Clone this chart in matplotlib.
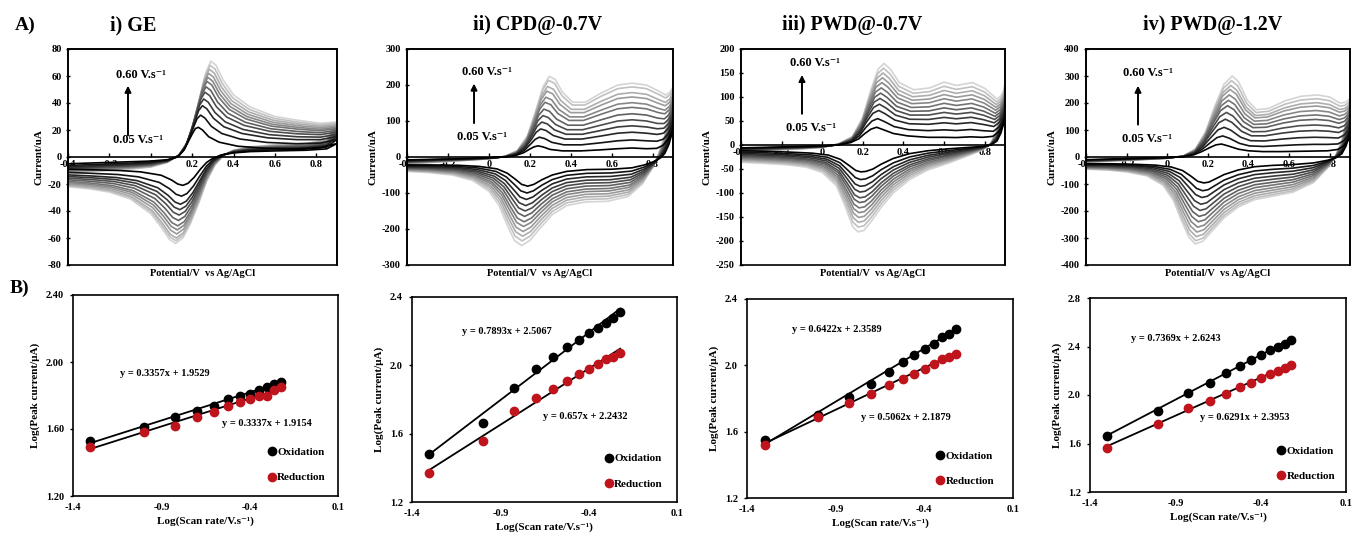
import numpy as np
import matplotlib
matplotlib.use('Agg')
import matplotlib.pyplot as plt
from matplotlib.patches import Rectangle
from matplotlib.ticker import FixedLocator, FuncFormatter

# ---------------- data ----------------
SCAN_RATES = [0.05, 0.10, 0.15, 0.20, 0.25, 0.30, 0.35, 0.40, 0.45, 0.50, 0.55, 0.60]

# CV sweeps (potential V, current uA): slowest (0.05 V/s) and fastest (0.60 V/s) scans
GE_FWD_SLOW = [(-0.40, -5), (-0.30, -4.5), (-0.20, -4), (-0.10, -3.5), (0.00, -3), (0.08, -2), (0.13, 0), (0.16, 5),
               (0.18, 11), (0.20, 17), (0.215, 21), (0.23, 22), (0.25, 20), (0.28, 15), (0.33, 11), (0.42, 8),
               (0.55, 6.5), (0.70, 6), (0.82, 7), (0.90, 10)]
GE_FWD_FAST = [(-0.40, -12), (-0.30, -11), (-0.20, -10), (-0.10, -9), (0.00, -7.5), (0.08, -4), (0.14, 2), (0.18, 12),
               (0.21, 27), (0.24, 46), (0.265, 62), (0.29, 71), (0.315, 68), (0.35, 57), (0.40, 46), (0.48, 37),
               (0.60, 30), (0.72, 27), (0.82, 25), (0.90, 26)]
GE_REV_SLOW = [(0.90, 10), (0.85, 6), (0.75, 5), (0.60, 4.5), (0.48, 4), (0.40, 3), (0.34, 1.5), (0.30, -1),
               (0.27, -4), (0.24, -9), (0.21, -15), (0.18, -19.5), (0.155, -21), (0.13, -20), (0.10, -17),
               (0.05, -13.5), (-0.05, -11), (-0.15, -10), (-0.28, -9.5), (-0.40, -9)]
GE_REV_FAST = [(0.90, 26), (0.85, 13), (0.75, 10), (0.60, 9), (0.48, 7.5), (0.40, 5), (0.35, 1), (0.31, -6),
               (0.27, -18), (0.23, -35), (0.19, -50), (0.155, -60), (0.12, -64), (0.09, -61), (0.05, -52),
               (0.00, -42), (-0.10, -31), (-0.20, -26), (-0.30, -23.5), (-0.40, -22)]
GE_OX_PEAKS = [22, 31, 38, 43, 48, 52, 56, 59, 62, 65, 68, 71]
GE_RED_PEAKS = [-21, -29, -35, -39, -43, -47, -51, -54, -57, -60, -62, -64]

CPD_FWD_SLOW = [(-0.40, -8), (-0.25, -6), (-0.10, -4), (0.00, -2), (0.08, 0), (0.13, 4), (0.17, 12), (0.20, 22),
                (0.22, 28), (0.24, 31), (0.265, 28), (0.30, 21), (0.36, 17), (0.45, 17), (0.55, 20), (0.63, 23),
                (0.70, 25), (0.77, 23), (0.82, 24), (0.85, 32), (0.875, 48), (0.90, 75)]
CPD_FWD_FAST = [(-0.40, -20), (-0.25, -14), (-0.10, -9), (0.00, -5), (0.08, 2), (0.14, 18), (0.19, 60), (0.23, 130),
                (0.265, 195), (0.295, 224), (0.325, 215), (0.36, 180), (0.41, 152), (0.47, 152), (0.55, 178),
                (0.63, 200), (0.70, 205), (0.77, 200), (0.83, 183), (0.865, 172), (0.885, 180), (0.90, 195)]
CPD_REV_SLOW = [(0.90, 75), (0.88, 35), (0.86, 10), (0.84, -2), (0.81, -12), (0.76, -22), (0.70, -30), (0.60, -34),
                (0.48, -35), (0.38, -40), (0.31, -50), (0.26, -63), (0.22, -76), (0.19, -81), (0.16, -76),
                (0.13, -62), (0.09, -45), (0.04, -33), (-0.05, -26), (-0.15, -23), (-0.28, -22), (-0.40, -22)]
CPD_REV_FAST = [(0.90, 195), (0.88, 120), (0.86, 60), (0.83, 10), (0.80, -30), (0.75, -75), (0.68, -110),
                (0.58, -123), (0.47, -125), (0.38, -135), (0.31, -160), (0.255, -195), (0.20, -232), (0.16, -246),
                (0.125, -232), (0.09, -190), (0.05, -135), (0.00, -95), (-0.08, -65), (-0.18, -50), (-0.30, -43),
                (-0.40, -40)]
CPD_OX_PEAKS = [31, 55, 78, 97, 115, 133, 152, 166, 183, 196, 213, 224]
CPD_RED_PEAKS = [-81, -100, -118, -135, -150, -165, -180, -193, -207, -220, -233, -246]

PW7_FWD_SLOW = [(-0.40, -6), (-0.25, -4.5), (-0.10, -3), (0.00, -2), (0.08, 0), (0.14, 5), (0.18, 13), (0.21, 24),
                (0.24, 33), (0.268, 37), (0.30, 32), (0.35, 24), (0.42, 19), (0.52, 16), (0.60, 16), (0.66, 15.5),
                (0.73, 17), (0.79, 16), (0.84, 18), (0.87, 28), (0.89, 42), (0.90, 55)]
PW7_FWD_FAST = [(-0.40, -15), (-0.25, -11), (-0.10, -8), (0.00, -5), (0.08, 2), (0.15, 18), (0.20, 58), (0.24, 115),
                (0.275, 158), (0.305, 170), (0.335, 158), (0.38, 130), (0.45, 115), (0.53, 119), (0.60, 131),
                (0.66, 124), (0.74, 130), (0.80, 118), (0.86, 96), (0.88, 102), (0.895, 115), (0.90, 128)]
PW7_REV_SLOW = [(0.90, 55), (0.88, 25), (0.86, 8), (0.83, 0), (0.79, -3), (0.72, -5), (0.62, -8), (0.52, -12),
                (0.43, -18), (0.35, -28), (0.29, -40), (0.25, -50), (0.215, -55), (0.19, -56), (0.165, -53),
                (0.13, -42), (0.09, -30), (0.03, -21), (-0.05, -17), (-0.15, -15), (-0.28, -13), (-0.40, -12)]
PW7_REV_FAST = [(0.90, 128), (0.88, 70), (0.855, 25), (0.83, 3), (0.79, -10), (0.72, -22), (0.62, -38), (0.52, -52),
                (0.43, -72), (0.35, -100), (0.29, -130), (0.24, -160), (0.205, -178), (0.176, -181), (0.15, -170),
                (0.115, -130), (0.07, -85), (0.00, -57), (-0.08, -46), (-0.18, -41), (-0.30, -38), (-0.40, -36)]
PW7_OX_PEAKS = [37, 55, 72, 85, 97, 108, 119, 130, 140, 150, 160, 170]
PW7_RED_PEAKS = [-56, -72, -86, -98, -110, -120, -131, -141, -151, -161, -171, -181]

PW12_FWD_SLOW = [(-0.40, -10), (-0.25, -7), (-0.10, -4), (0.00, -2), (0.08, 1), (0.13, 8), (0.17, 20), (0.21, 35),
                 (0.24, 45), (0.267, 48), (0.30, 41), (0.35, 29), (0.40, 23), (0.47, 20), (0.56, 20), (0.64, 21),
                 (0.72, 22), (0.79, 23), (0.84, 28), (0.87, 42), (0.89, 62), (0.90, 85)]
PW12_FWD_FAST = [(-0.40, -20), (-0.25, -14), (-0.10, -9), (0.00, -5), (0.08, 4), (0.14, 30), (0.19, 95), (0.235, 190),
                 (0.28, 270), (0.32, 300), (0.35, 280), (0.395, 210), (0.44, 175), (0.50, 180), (0.58, 208),
                 (0.66, 225), (0.74, 230), (0.80, 222), (0.85, 200), (0.875, 202), (0.89, 210), (0.90, 217)]
PW12_REV_SLOW = [(0.90, 85), (0.88, 40), (0.86, 12), (0.83, -3), (0.79, -12), (0.72, -22), (0.62, -28), (0.52, -31),
                 (0.43, -36), (0.35, -48), (0.28, -65), (0.235, -82), (0.205, -93), (0.18, -96), (0.15, -90),
                 (0.115, -70), (0.075, -50), (0.02, -37), (-0.06, -30), (-0.16, -27), (-0.28, -25), (-0.40, -25)]
PW12_REV_FAST = [(0.90, 217), (0.88, 130), (0.86, 60), (0.83, 5), (0.79, -40), (0.72, -95), (0.62, -130),
                 (0.52, -145), (0.43, -158), (0.35, -185), (0.28, -225), (0.22, -275), (0.175, -312), (0.138, -322),
                 (0.105, -295), (0.07, -235), (0.03, -160), (-0.02, -105), (-0.10, -70), (-0.20, -55), (-0.30, -48),
                 (-0.40, -45)]
PW12_OX_PEAKS = [48, 78, 110, 140, 165, 190, 210, 230, 250, 265, 283, 300]
PW12_RED_PEAKS = [-96, -125, -150, -175, -198, -220, -240, -260, -278, -295, -310, -322]

# log(peak current) vs log(scan rate)
GE_LOG_OX = [1.53, 1.61, 1.67, 1.71, 1.74, 1.78, 1.80, 1.81, 1.83, 1.85, 1.87, 1.88]
GE_LOG_RED = [1.49, 1.58, 1.62, 1.67, 1.70, 1.74, 1.76, 1.78, 1.80, 1.80, 1.83, 1.85]
CPD_LOG_OX = [1.48, 1.66, 1.87, 1.98, 2.05, 2.11, 2.15, 2.19, 2.22, 2.25, 2.28, 2.31]
CPD_LOG_RED = [1.37, 1.56, 1.73, 1.81, 1.86, 1.91, 1.95, 1.98, 2.01, 2.04, 2.05, 2.07]
PW7_LOG_OX = [1.55, 1.70, 1.81, 1.89, 1.96, 2.02, 2.06, 2.10, 2.13, 2.17, 2.19, 2.22]
PW7_LOG_RED = [1.52, 1.69, 1.77, 1.83, 1.88, 1.92, 1.95, 1.98, 2.01, 2.04, 2.05, 2.07]
PW12_LOG_OX = [1.66, 1.87, 2.02, 2.10, 2.18, 2.24, 2.29, 2.33, 2.37, 2.40, 2.42, 2.45]
PW12_LOG_RED = [1.56, 1.76, 1.89, 1.95, 2.01, 2.07, 2.10, 2.14, 2.17, 2.20, 2.22, 2.25]

GE_FITS = [(0.3357, 1.9529), (0.3337, 1.9154)]
CPD_FITS = [(0.7893, 2.5067), (0.657, 2.2432)]
PW7_FITS = [(0.6422, 2.3589), (0.5062, 2.1879)]
PW12_FITS = [(0.7369, 2.6243), (0.6291, 2.3953)]

TITLES = ['i) GE', 'ii) CPD@-0.7V', 'iii) PWD@-0.7V', 'iv) PWD@-1.2V']

# ---------------- style ----------------
FAM = ['Liberation Serif', 'DejaVu Serif']
plt.rcParams['font.family'] = FAM
plt.rcParams['font.weight'] = 'bold'
TXT = dict(fontfamily=FAM, fontweight='bold')

RED = '#c0141c'
TICK_FS = 7.5
W, H = 1353, 537
fig = plt.figure(figsize=(W / 100, H / 100), dpi=100)


def px_axes(l, r, t, b):
    return fig.add_axes([l / W, 1 - b / H, (r - l) / W, (b - t) / H])


def numfmt(v, pos=None):
    if abs(v) < 1e-9:
        return '0'
    return f'{v:.1f}'


def bold_ticks(ax):
    for lab in ax.get_xticklabels() + ax.get_yticklabels():
        lab.set_fontweight('bold')
        lab.set_fontfamily(FAM)


def cv_panel(ax, fs, ff, rs, rf, oxp, redp, ylim, ystep, ann):
    fs, ff, rs, rf = map(np.array, (fs, ff, rs, rf))
    n = len(SCAN_RATES)
    grays = np.linspace(0.0, 0.83, n)
    for k in reversed(range(n)):
        to = (oxp[k] - oxp[0]) / (oxp[-1] - oxp[0])
        tr = (redp[k] - redp[0]) / (redp[-1] - redp[0])
        fwd = fs + to * (ff - fs)
        rev = rs + tr * (rf - rs)
        pts = np.vstack([fwd, rev])
        ax.plot(pts[:, 0], pts[:, 1], color=str(grays[k]), lw=1.2, solid_joinstyle='round')
    ax.set_xlim(-0.4, 0.9)
    ax.set_ylim(*ylim)
    ax.spines['bottom'].set_position(('data', 0))
    for s in ax.spines.values():
        s.set_linewidth(1.2)
    ax.add_patch(Rectangle((0, 0), 1, 1, transform=ax.transAxes, fill=False, lw=1.2, clip_on=False, zorder=5))
    ax.xaxis.set_major_locator(FixedLocator([-0.4, -0.2, 0, 0.2, 0.4, 0.6, 0.8]))
    ax.xaxis.set_major_formatter(FuncFormatter(numfmt))
    ax.yaxis.set_major_locator(FixedLocator(np.arange(ylim[0], ylim[1] + 1, ystep)))
    ax.yaxis.set_major_formatter(FuncFormatter(lambda v, p: f'{int(round(v))}'))
    ax.tick_params(axis='x', direction='in', length=3, width=1, labelsize=TICK_FS, pad=2)
    ax.tick_params(axis='y', direction='inout', length=3, width=1, labelsize=TICK_FS, pad=3)
    bold_ticks(ax)
    ax.set_ylabel('Current/uA', fontsize=TICK_FS + 0.5, labelpad=3, **TXT)
    ax.text(0.5, -0.02, 'Potential/V  vs Ag/AgCl', transform=ax.transAxes, ha='center', va='top',
            fontsize=TICK_FS, **TXT)
    (tx6, ty6), (axx, ay0, ay1), (tx5, ty5) = ann
    ax.text(tx6, ty6, '0.60 V.s⁻¹', transform=ax.transAxes, ha='left', va='center', fontsize=9, **TXT)
    ax.text(tx5, ty5, '0.05 V.s⁻¹', transform=ax.transAxes, ha='left', va='center', fontsize=9, **TXT)
    ax.annotate('', xy=(axx, ay1), xytext=(axx, ay0), xycoords='axes fraction', textcoords='axes fraction',
                arrowprops=dict(arrowstyle='-|>', color='k', lw=1.4, mutation_scale=9, shrinkA=0, shrinkB=0))


def lin_panel(ax, ox, red, fits, ylim, yticks, yfmt, eq1, eq2, leg):
    x = np.log10(np.array(SCAN_RATES))
    xl = np.array([x[0], x[-1]])
    for a, b in fits:
        ax.plot(xl, a * xl + b, color='k', lw=1.3, zorder=2)
    ax.plot(x, ox, 'o', color='k', ms=6, label='Oxidation', zorder=3)
    ax.plot(x, red, 'o', color=RED, ms=6, label='Reduction', zorder=3)
    ax.set_xlim(-1.4, 0.1)
    ax.set_ylim(*ylim)
    ax.xaxis.set_major_locator(FixedLocator([-1.4, -0.9, -0.4, 0.1]))
    ax.xaxis.set_major_formatter(FuncFormatter(lambda v, p: f'{v:.1f}'))
    ax.yaxis.set_major_locator(FixedLocator(yticks))
    ax.yaxis.set_major_formatter(FuncFormatter(lambda v, p: yfmt.format(v)))
    ax.tick_params(axis='x', length=0, labelsize=TICK_FS, pad=5)
    ax.tick_params(axis='y', direction='out', length=2.5, width=1, labelsize=TICK_FS, pad=4)
    bold_ticks(ax)
    for s in ax.spines.values():
        s.set_linewidth(1.2)
    ax.set_ylabel('Log(Peak current/μA)', fontsize=TICK_FS + 0.5, labelpad=4, **TXT)
    ax.set_xlabel('Log(Scan rate/V.s⁻¹)', fontsize=TICK_FS + 0.5, labelpad=3, **TXT)
    for (a, b), (ex, ey) in zip(fits, (eq1, eq2)):
        ax.text(ex, ey, f'y = {a:g}x + {b:g}', fontsize=7.5, ha='left', va='center', **TXT)
    ax.legend(loc='center left', bbox_to_anchor=leg, frameon=False, handlelength=0.7,
              handletextpad=0.15, labelspacing=1.4, borderpad=0, borderaxespad=0,
              prop=dict(family=FAM, weight='bold', size=TICK_FS + 0.5))


# ---------------- top row ----------------
top_boxes = [(68, 337, 49, 265), (407, 673, 49, 265), (741, 1005, 49, 265), (1086, 1350, 49, 265)]
cv_sets = [
    (GE_FWD_SLOW, GE_FWD_FAST, GE_REV_SLOW, GE_REV_FAST, GE_OX_PEAKS, GE_RED_PEAKS, (-80, 80), 20,
     ((0.18, 0.88), (0.223, 0.60, 0.83), (0.167, 0.58))),
    (CPD_FWD_SLOW, CPD_FWD_FAST, CPD_REV_SLOW, CPD_REV_FAST, CPD_OX_PEAKS, CPD_RED_PEAKS, (-300, 300), 100,
     ((0.206, 0.895), (0.252, 0.657, 0.84), (0.188, 0.594))),
    (PW7_FWD_SLOW, PW7_FWD_FAST, PW7_REV_SLOW, PW7_REV_FAST, PW7_OX_PEAKS, PW7_RED_PEAKS, (-250, 200), 50,
     ((0.186, 0.935), (0.231, 0.70, 0.88), (0.17, 0.636))),
    (PW12_FWD_SLOW, PW12_FWD_FAST, PW12_REV_SLOW, PW12_REV_FAST, PW12_OX_PEAKS, PW12_RED_PEAKS, (-400, 400), 100,
     ((0.14, 0.89), (0.197, 0.65, 0.83), (0.136, 0.583))),
]
for box, st in zip(top_boxes, cv_sets):
    ax = px_axes(*box)
    cv_panel(ax, *st)

# ---------------- bottom row ----------------
bot_boxes = [(73, 338, 295, 496), (412, 677, 297, 502), (747, 1013, 299, 498), (1090, 1346, 298, 492)]
lin_sets = [
    (GE_LOG_OX, GE_LOG_RED, GE_FITS, (1.2, 2.4), [1.2, 1.6, 2.0, 2.4], '{:.2f}', (-1.134, 1.934), (-0.557, 1.63),
     (0.735, 0.155)),
    (CPD_LOG_OX, CPD_LOG_RED, CPD_FITS, (1.2, 2.4), [1.2, 1.6, 2.0, 2.4], '{:.1f}', (-1.119, 2.20), (-0.658, 1.70),
     (0.727, 0.15)),
    (PW7_LOG_OX, PW7_LOG_RED, PW7_FITS, (1.2, 2.4), [1.2, 1.6, 2.0, 2.4], '{:.1f}', (-1.149, 2.219), (-0.756, 1.684),
     (0.711, 0.147)),
    (PW12_LOG_OX, PW12_LOG_RED, PW12_FITS, (1.2, 2.8), [1.2, 1.6, 2.0, 2.4, 2.8], '{:.1f}', (-1.16, 2.47),
     (-0.757, 1.813), (0.73, 0.147)),
]
for box, st in zip(bot_boxes, lin_sets):
    ax = px_axes(*box)
    lin_panel(ax, *st)

# ---------------- headings ----------------
fig.text(15 / W, 1 - 25 / H, 'A)', fontsize=14, ha='left', va='center', **TXT)
fig.text(10 / W, 1 - 288 / H, 'B)', fontsize=14, ha='left', va='center', **TXT)
for cx, t in zip([133, 538, 852, 1213], TITLES):
    fig.text(cx / W, 1 - 25 / H, t, fontsize=14.5, ha='center', va='center', **TXT)

fig.savefig('out.png', dpi=100)
